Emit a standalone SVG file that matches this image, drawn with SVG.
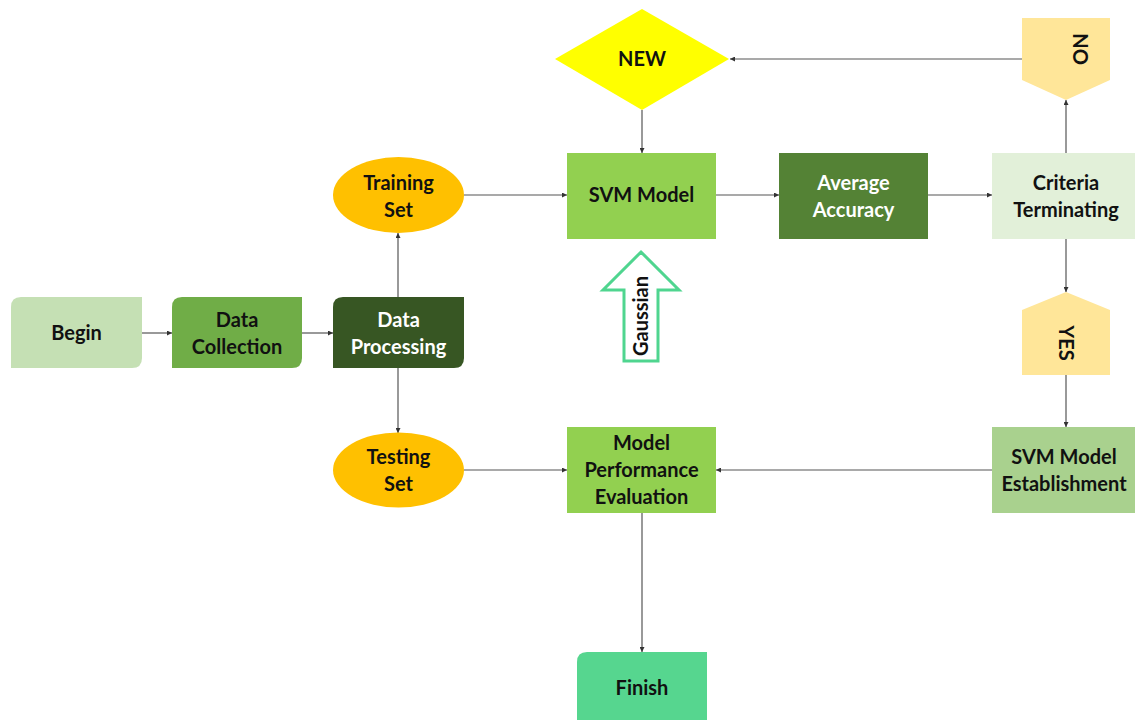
<svg xmlns="http://www.w3.org/2000/svg" width="1135" height="720" viewBox="0 0 1135 720">
  <style>
    text { font-family: Lato, "Open Sans", "Liberation Sans", sans-serif; font-weight: bold; font-size: 20px; text-anchor: middle; fill: #111; }
    .w { fill: #ffffff; }
    .edge { stroke: #555; stroke-width: 1.2; fill: none; marker-end: url(#arr); }
  </style>
  <defs>
    <marker id="arr" viewBox="0 0 6 6" refX="6" refY="3" markerWidth="5" markerHeight="5" orient="auto" markerUnits="userSpaceOnUse">
      <path d="M0,0 L6,3 L0,6 z" fill="#333"/>
    </marker>
  </defs>
  <rect width="1135" height="720" fill="#ffffff"/>

  <g id="connectors">
    <line class="edge" x1="142" y1="333" x2="172" y2="333"/>
    <line class="edge" x1="302" y1="333" x2="333" y2="333"/>
    <line class="edge" x1="398" y1="297" x2="398" y2="233"/>
    <line class="edge" x1="398" y1="368" x2="398" y2="433"/>
    <line class="edge" x1="464" y1="195" x2="567" y2="195"/>
    <line class="edge" x1="716" y1="195" x2="779" y2="195"/>
    <line class="edge" x1="928" y1="195" x2="992" y2="195"/>
    <line class="edge" x1="1066" y1="153" x2="1066" y2="100"/>
    <line class="edge" x1="1022" y1="59" x2="730" y2="59"/>
    <line class="edge" x1="642" y1="110" x2="642" y2="153"/>
    <line class="edge" x1="1066" y1="239" x2="1066" y2="292"/>
    <line class="edge" x1="1066" y1="375" x2="1066" y2="427"/>
    <line class="edge" x1="992" y1="470" x2="716" y2="470"/>
    <line class="edge" x1="464" y1="470" x2="567" y2="470"/>
    <line class="edge" x1="642" y1="513" x2="642" y2="652"/>
  </g>

  <g id="begin">
    <path d="M21,297 H142 V358 Q142,368 132,368 H11 V307 Q11,297 21,297 Z" fill="#c5e0b4"/>
    <text x="76.5" y="340">Begin</text>
  </g>
  <g id="data-collection">
    <path d="M182,297 H302 V358 Q302,368 292,368 H172 V307 Q172,297 182,297 Z" fill="#70ad47"/>
    <text x="237" y="327">Data</text>
    <text x="237" y="354">Collection</text>
  </g>
  <g id="data-processing">
    <path d="M343,297 H464 V358 Q464,368 454,368 H333 V307 Q333,297 343,297 Z" fill="#375623"/>
    <text class="w" x="398.5" y="327">Data</text>
    <text class="w" x="398.5" y="354">Processing</text>
  </g>
  <g id="training-set">
    <ellipse cx="398.5" cy="195" rx="65.5" ry="38" fill="#ffc000"/>
    <text x="398.5" y="190">Training</text>
    <text x="398.5" y="217">Set</text>
  </g>
  <g id="testing-set">
    <ellipse cx="398.5" cy="470" rx="65.5" ry="37.5" fill="#ffc000"/>
    <text x="398.5" y="464">Testing</text>
    <text x="398.5" y="491">Set</text>
  </g>
  <g id="new">
    <polygon points="642,9 729,59 642,110 555,59" fill="#ffff00"/>
    <text x="642" y="66">NEW</text>
  </g>
  <g id="svm-model">
    <rect x="567" y="153" width="149" height="86" fill="#92d050"/>
    <text x="641.5" y="202">SVM Model</text>
  </g>
  <g id="gaussian">
    <polygon points="641,252 679,290 658,290 658,361 624,361 624,290 603,290" fill="#ffffff" stroke="#4fd58f" stroke-width="3"/>
    <text transform="translate(648,316) rotate(-90)">Gaussian</text>
  </g>
  <g id="average-accuracy">
    <rect x="779" y="153" width="149" height="86" fill="#548235"/>
    <text class="w" x="853.5" y="190">Average</text>
    <text class="w" x="853.5" y="217">Accuracy</text>
  </g>
  <g id="criteria-terminating">
    <rect x="992" y="153" width="143" height="86" fill="#e2f0d9"/>
    <text x="1066" y="190">Criteria</text>
    <text x="1066" y="217">Terminating</text>
  </g>
  <g id="no">
    <polygon points="1022,18 1110,18 1110,80 1066,100 1022,80" fill="#ffe699"/>
    <text transform="translate(1073,49) rotate(90)">NO</text>
  </g>
  <g id="yes">
    <polygon points="1066,292 1110,310 1110,375 1022,375 1022,310" fill="#ffe699"/>
    <text transform="translate(1059,343) rotate(90)">YES</text>
  </g>
  <g id="svm-model-establishment">
    <rect x="992" y="427" width="143" height="86" fill="#a9d18e"/>
    <text x="1064" y="464">SVM Model</text>
    <text x="1064" y="491">Establishment</text>
  </g>
  <g id="model-performance-evaluation">
    <rect x="567" y="427" width="149" height="86" fill="#92d050"/>
    <text x="641.5" y="450">Model</text>
    <text x="641.5" y="477">Performance</text>
    <text x="641.5" y="504">Evaluation</text>
  </g>
  <g id="finish">
    <path d="M587,652 H707 V720 H577 V662 Q577,652 587,652 Z" fill="#56d68f"/>
    <text x="642" y="695">Finish</text>
  </g>
</svg>
